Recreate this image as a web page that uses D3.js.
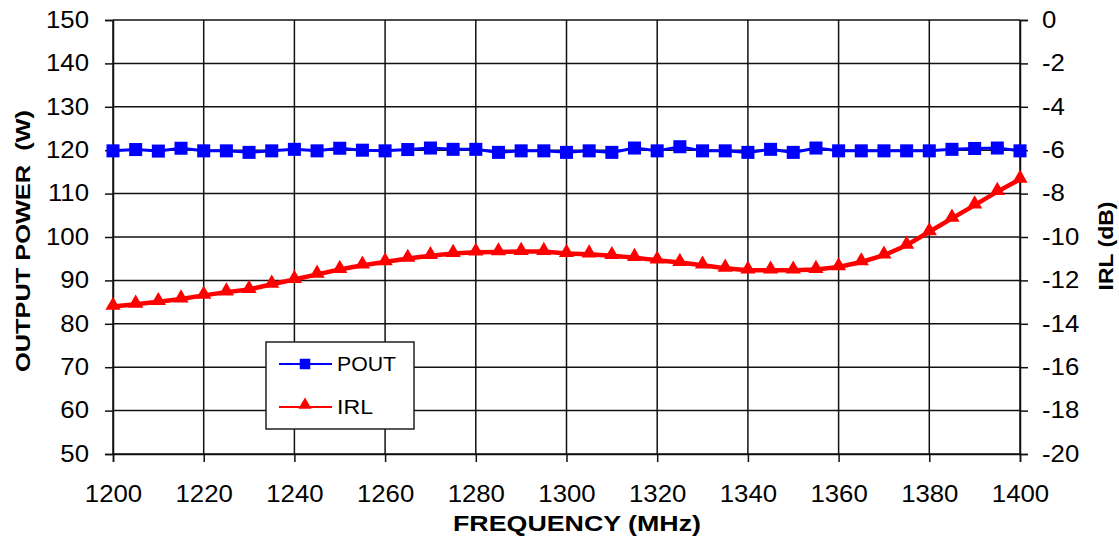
<!DOCTYPE html>
<html>
<head>
<meta charset="utf-8">
<script src="https://cdn.jsdelivr.net/npm/d3@7"></script>
<style>
  body { margin: 0; background: #fff; }
  text { font-family: "Liberation Sans", Arial, sans-serif; }
</style>
</head>
<body>
<script>
var width = 1119
var height = 539

// data
var freq = d3.range(1200, 1401, 5)
var pout = [119.85, 120.15, 119.8, 120.45, 119.85, 119.85, 119.5, 119.85, 120.2, 119.85,
            120.45, 120.0, 119.85, 120.15, 120.5, 120.2, 120.2, 119.5, 119.85, 119.85,
            119.5, 119.85, 119.5, 120.5, 119.85, 120.8, 119.85, 119.85, 119.5, 120.2,
            119.5, 120.5, 119.85, 119.85, 119.85, 119.85, 119.85, 120.2, 120.4, 120.5, 119.85]
var irl = [-13.2, -13.1, -12.98, -12.86, -12.69, -12.54, -12.42, -12.18, -11.96, -11.72,
           -11.5, -11.3, -11.15, -10.99, -10.86, -10.76, -10.7, -10.69, -10.67, -10.67,
           -10.76, -10.79, -10.86, -10.95, -11.07, -11.18, -11.3, -11.44, -11.53, -11.53,
           -11.53, -11.5, -11.38, -11.15, -10.84, -10.38, -9.76, -9.14, -8.53, -7.91, -7.34]
var xTicks = d3.range(1200, 1401, 20)
var leftTicks = d3.range(50, 151, 10)
var rightTicks = d3.range(-20, 1, 2)

var svg = d3.select("body")
    .append("svg")
        .attr("width", width)
        .attr("height", height)

var x = d3.scaleLinear().domain([1200, 1400]).range([113, 1020])
var yL = d3.scaleLinear().domain([50, 150]).range([454, 20])
var yR = d3.scaleLinear().domain([-20, 0]).range([454, 20])

// stretch text a little wider, the picture's font is broad
function widen(sel, k) {
    sel.each(function() {
        var w = this.getComputedTextLength()
        d3.select(this).attr("textLength", w * k).attr("lengthAdjust", "spacingAndGlyphs")
    })
}

// grid
svg.append("g")
    .selectAll("line")
    .data(leftTicks)
    .enter()
    .append("line")
        .attr("x1", 113).attr("x2", 1020)
        .attr("y1", d => yL(d)).attr("y2", d => yL(d))
        .attr("stroke", "#111").attr("stroke-width", 1.5)

svg.append("g")
    .selectAll("line")
    .data(xTicks)
    .enter()
    .append("line")
        .attr("x1", d => x(d)).attr("x2", d => x(d))
        .attr("y1", 20).attr("y2", 454)
        .attr("stroke", "#111").attr("stroke-width", 1.5)

// axes
var xAxis = svg.append("g")
    .attr("transform", "translate(0,454)")
    .call(d3.axisBottom(x).tickValues(xTicks).tickFormat(d3.format("d")).tickSize(8).tickPadding(24))
var lAxis = svg.append("g")
    .attr("transform", "translate(113,0)")
    .call(d3.axisLeft(yL).tickValues(leftTicks).tickSize(8).tickPadding(16))
var rAxis = svg.append("g")
    .attr("transform", "translate(1020,0)")
    .call(d3.axisRight(yR).tickValues(rightTicks).tickSize(8).tickPadding(14))

rAxis.selectAll("text").text(d => d === 0 ? "0" : "-" + Math.abs(d))
;[xAxis, lAxis, rAxis].forEach(function(a) {
    a.select(".domain").attr("stroke", "#111").attr("stroke-width", 1.5)
    a.selectAll(".tick line").attr("stroke", "#111").attr("stroke-width", 1.5)
    a.selectAll("text").style("font-size", "23px").attr("fill", "#000")
    widen(a.selectAll("text"), 1.12)
})

// lines
var linePout = d3.line().x((d, i) => x(freq[i])).y(d => yL(d))
var lineIrl = d3.line().x((d, i) => x(freq[i])).y(d => yR(d))

svg.append("path")
    .datum(pout)
    .attr("d", linePout)
    .attr("fill", "none")
    .attr("stroke", "#0000ff")
    .attr("stroke-width", 3)

svg.append("path")
    .datum(irl)
    .attr("d", lineIrl)
    .attr("fill", "none")
    .attr("stroke", "#ff0000")
    .attr("stroke-width", 4.5)

var sq = d3.symbol().type(d3.symbolSquare).size(170)
var tri = d3.symbol().type(d3.symbolTriangle).size(100)

svg.selectAll("allSquares")
    .data(pout)
    .enter()
    .append("path")
        .attr("d", sq)
        .attr("transform", (d, i) => "translate(" + x(freq[i]) + "," + yL(d) + ")")
        .attr("fill", "#0000ff")

svg.selectAll("allTris")
    .data(irl)
    .enter()
    .append("path")
        .attr("d", tri)
        .attr("transform", (d, i) => "translate(" + x(freq[i]) + "," + (yR(d) - 1) + ")")
        .attr("fill", "#ff0000")

// legend
var lg = svg.append("g")
lg.append("rect")
    .attr("x", 266).attr("y", 342).attr("width", 148).attr("height", 87)
    .attr("fill", "#fff").attr("stroke", "#222").attr("stroke-width", 1.5)
lg.append("line").attr("x1", 279).attr("x2", 332).attr("y1", 364).attr("y2", 364)
    .attr("stroke", "#0000ff").attr("stroke-width", 2)
lg.append("path").attr("d", d3.symbol().type(d3.symbolSquare).size(110))
    .attr("transform", "translate(305,364)").attr("fill", "#0000ff")
lg.append("text").attr("x", 337).attr("y", 371).text("POUT")
    .style("font-size", "20px").attr("textLength", 59).attr("lengthAdjust", "spacingAndGlyphs")
lg.append("line").attr("x1", 279).attr("x2", 332).attr("y1", 407).attr("y2", 407)
    .attr("stroke", "#ff0000").attr("stroke-width", 2)
lg.append("path").attr("d", d3.symbol().type(d3.symbolTriangle).size(75))
    .attr("transform", "translate(305,405)").attr("fill", "#ff0000")
lg.append("text").attr("x", 337).attr("y", 414).text("IRL")
    .style("font-size", "20px").attr("textLength", 36).attr("lengthAdjust", "spacingAndGlyphs")

// titles
svg.append("text")
    .attr("x", 577).attr("y", 531)
    .attr("text-anchor", "middle")
    .style("font-size", "22px").style("font-weight", "bold")
    .attr("textLength", 248).attr("lengthAdjust", "spacingAndGlyphs")
    .text("FREQUENCY (MHz)")

svg.append("text")
    .attr("transform", "translate(30,241) rotate(-90)")
    .attr("text-anchor", "middle")
    .attr("xml:space", "preserve")
    .style("font-size", "21px").style("font-weight", "bold")
    .attr("textLength", 262).attr("lengthAdjust", "spacingAndGlyphs")
    .text("OUTPUT POWER  (W)")

svg.append("text")
    .attr("transform", "translate(1113,246) rotate(-90)")
    .attr("text-anchor", "middle")
    .style("font-size", "21px").style("font-weight", "bold")
    .attr("textLength", 89).attr("lengthAdjust", "spacingAndGlyphs")
    .text("IRL (dB)")
</script>
</body>
</html>
